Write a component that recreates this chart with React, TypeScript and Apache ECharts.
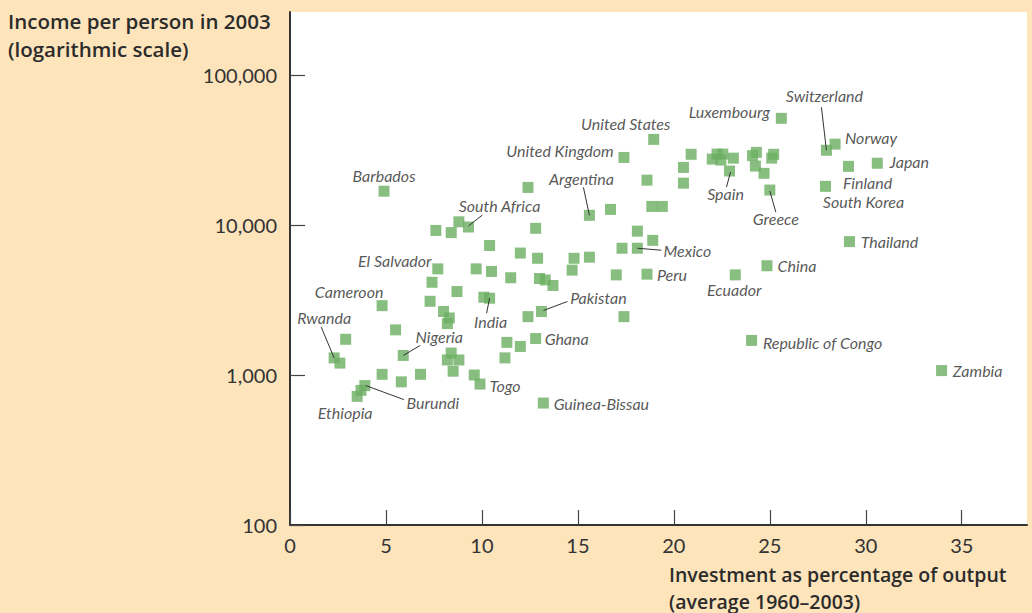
import React, { useEffect, useRef } from 'react';
import * as echarts from 'echarts';

// Country names ('' = unlabeled point)
const countries: string[] = [
  'Barbados', '', '', '', 'South Africa', '', 'El Salvador', '', '', '',
  '', '', '', 'India', 'Cameroon', '', '', '', '', '',
  'Nigeria', 'Rwanda', '', '', '', '', '', '', 'Togo', '',
  '', '', 'Burundi', '', 'Ethiopia', '', '', '', '', '',
  '', '', '', '', '', '', '', 'Peru', '', 'Pakistan',
  '', '', '', 'Ghana', '', 'Guinea-Bissau', 'Argentina', '', '', '',
  '', 'United Kingdom', 'United States', '', '', '', 'Mexico', '', '', '',
  '', '', '', '', '', 'Spain', '', '', '', '',
  '', '', 'Greece', 'Luxembourg', 'Switzerland', 'Norway', 'Finland', 'Japan', 'South Korea', 'Thailand',
  'China', 'Ecuador', 'Republic of Congo', 'Zambia',
];

// Investment as percentage of output (average 1960–2003)
const investment: number[] = [
  4.9, 7.6, 8.4, 8.8, 9.3, 10.4, 7.7, 9.7, 10.5, 7.4,
  8.7, 7.3, 10.1, 10.4, 4.8, 8.0, 8.3, 8.2, 5.5, 2.9,
  5.9, 2.3, 2.6, 8.4, 8.2, 8.8, 8.5, 9.6, 9.9, 4.8,
  5.8, 6.8, 3.9, 3.7, 3.5, 12.4, 12.8, 12.0, 12.9, 11.5,
  13.0, 13.3, 13.7, 14.8, 15.6, 14.7, 17.0, 18.6, 12.4, 13.1,
  17.4, 11.3, 12.0, 12.8, 11.2, 13.2, 15.6, 16.7, 18.6, 18.85,
  19.4, 17.4, 18.95, 18.1, 18.9, 17.3, 18.1, 20.9, 20.5, 20.5,
  22.0, 22.25, 22.55, 22.45, 23.1, 22.9, 24.1, 24.3, 24.25, 24.7,
  25.2, 25.1, 25.0, 25.6, 27.95, 28.4, 29.1, 30.6, 27.9, 29.15,
  24.85, 23.2, 24.05, 33.95,
];

// Income per person in 2003
const income: number[] = [
  16800, 9200, 8900, 10500, 9700, 7300, 5100, 5100, 4900, 4150,
  3600, 3100, 3300, 3250, 2900, 2650, 2400, 2200, 2000, 1730,
  1350, 1300, 1200, 1400, 1260, 1260, 1060, 1000, 870, 1010,
  900, 1010, 850, 790, 720, 17800, 9500, 6500, 6000, 4450,
  4400, 4300, 3950, 6000, 6100, 5000, 4650, 4700, 2450, 2650,
  2450, 1650, 1550, 1750, 1300, 650, 11600, 12700, 19900, 13300,
  13300, 28200, 37200, 9100, 7900, 7000, 7000, 29600, 24200, 19000,
  27500, 29700, 29700, 27100, 27900, 22900, 29000, 30500, 24700, 22100,
  29600, 27900, 17100, 51400, 31500, 34600, 24600, 25800, 18100, 7750,
  5350, 4650, 1700, 1070,
];

const xTicks: number[] = [0, 5, 10, 15, 20, 25, 30, 35];
const yTicks: number[] = [100, 1000, 10000, 100000];

const yTitleLines: string[] = ['Income per person in 2003', '(logarithmic scale)'];
const xTitleLines: string[] = ['Investment as percentage of output', '(average 1960–2003)'];

// Label placement (pixel offsets from the point)
const labelOffsets: Record<string, number[]> = {
  'Barbados': [0, -16],
  'United States': [-28, -16],
  'United Kingdom': [-64, -7],
  'Argentina': [-8, -37],
  'South Africa': [31, -21],
  'El Salvador': [-43, -8],
  'Cameroon': [-33, -14],
  'Rwanda': [-10, -40],
  'Nigeria': [36, -19],
  'India': [1, 23],
  'Pakistan': [57, -14],
  'Ghana': [31, 0],
  'Togo': [25, 1],
  'Burundi': [68, 17],
  'Ethiopia': [-12, 16],
  'Guinea-Bissau': [58, 0],
  'Mexico': [50, 2],
  'Peru': [25, 0],
  'China': [30, 0],
  'Ecuador': [-1, 15],
  'Thailand': [40, 0],
  'Republic of Congo': [71, 2],
  'Zambia': [36, 0],
  'Luxembourg': [-52, -7],
  'Switzerland': [-2, -55],
  'Norway': [36, -7],
  'Japan': [32, -2],
  'Finland': [19, 16],
  'South Korea': [38, 15],
  'Spain': [-4, 22],
  'Greece': [6, 28],
};

// Leader lines: pixel offsets [x1, y1, x2, y2] from the point
const leaderOffsets: Record<string, number[]> = {
  'South Africa': [0, -1, 14, -12],
  'Argentina': [-6, -28, 0, 0],
  'Spain': [1, 1, -3, 16],
  'Greece': [0, 1, 6, 22],
  'Switzerland': [-5, -43, 0, 0],
  'Mexico': [0, 0, 24, 2],
  'Pakistan': [2, -1, 26, -10],
  'India': [0, 0, -3, 15],
  'Nigeria': [0, 0, 17, -10],
  'Rwanda': [-13, -31, 0, 0],
  'Burundi': [1, 0, 39, 14],
};

const FONT = 'Lato, "Open Sans", sans-serif';
const TITLE_FONT = '"Open Sans", Lato, sans-serif';
const INK = '#2b2b2b';

export default function App() {
  const ref = useRef<HTMLDivElement>(null);

  useEffect(() => {
    if (!ref.current) return;
    const chart = echarts.init(ref.current, null, { renderer: 'svg' });

    const data = investment.map((x, i) => {
      const name = countries[i];
      const item: any = { name, value: [x, income[i]] };
      if (name) {
        item.label = {
          show: true,
          position: 'inside',
          offset: labelOffsets[name] || [0, 0],
          formatter: '{b}',
        };
      }
      return item;
    });

    const leaderNames = Object.keys(leaderOffsets);
    const leaderData = leaderNames.map((name) => {
      const i = countries.indexOf(name);
      return { name, value: [investment[i], income[i]] };
    });

    const titleStyle = {
      fontFamily: TITLE_FONT,
      fontWeight: 600,
      fill: INK,
      verticalAlign: 'middle',
    };

    chart.setOption({
      animation: false,
      backgroundColor: 'transparent',
      grid: {
        left: 290,
        right: 5,
        top: 12,
        bottom: 88,
        show: true,
        backgroundColor: '#ffffff',
        borderWidth: 0,
      },
      xAxis: {
        type: 'value',
        min: 0,
        max: 38.4,
        interval: 5,
        splitLine: { show: false },
        axisLine: { show: true, lineStyle: { color: '#333', width: 2 } },
        axisTick: {
          show: true,
          inside: true,
          length: 15,
          customValues: xTicks,
          lineStyle: { color: '#444', width: 1.2 },
        },
        axisLabel: {
          customValues: xTicks,
          margin: 10,
          fontFamily: FONT,
          fontSize: 20,
          color: '#333',
        },
      },
      yAxis: {
        type: 'log',
        logBase: 10,
        min: 100,
        max: 263000,
        splitLine: { show: false },
        axisLine: { show: true, lineStyle: { color: '#333', width: 2 } },
        axisTick: {
          show: true,
          inside: true,
          length: 15,
          customValues: yTicks,
          lineStyle: { color: '#444', width: 1.2 },
        },
        axisLabel: {
          customValues: yTicks,
          margin: 13,
          fontFamily: FONT,
          fontSize: 20,
          color: '#333',
          formatter: (v: number) => Number(v).toLocaleString('en-US'),
        },
      },
      graphic: [
        {
          type: 'text',
          x: 8,
          y: 21,
          style: { ...titleStyle, text: yTitleLines[0], fontSize: 20.5 },
        },
        {
          type: 'text',
          x: 8,
          y: 49,
          style: { ...titleStyle, text: yTitleLines[1], fontSize: 20.5 },
        },
        {
          type: 'text',
          x: 669,
          y: 574,
          style: { ...titleStyle, text: xTitleLines[0], fontSize: 19.5 },
        },
        {
          type: 'text',
          x: 669,
          y: 601,
          style: { ...titleStyle, text: xTitleLines[1], fontSize: 19.5 },
        },
      ],
      series: [
        {
          type: 'scatter',
          symbol: 'rect',
          symbolSize: 11,
          silent: true,
          itemStyle: { color: '#6cae62' },
          label: {
            show: false,
            fontFamily: FONT,
            fontStyle: 'italic',
            fontSize: 16,
            color: INK,
          },
          emphasis: { disabled: true },
          data,
          z: 2,
        },
        {
          type: 'custom',
          silent: true,
          clip: false,
          z: 3,
          data: leaderData,
          renderItem: (params: any, api: any) => {
            const p = api.coord([api.value(0), api.value(1)]);
            const seg = leaderOffsets[leaderNames[params.dataIndex]];
            return {
              type: 'line',
              shape: {
                x1: p[0] + seg[0],
                y1: p[1] + seg[1],
                x2: p[0] + seg[2],
                y2: p[1] + seg[3],
              },
              style: { stroke: '#333', lineWidth: 1 },
            };
          },
        },
      ],
    });

    return () => chart.dispose();
  }, []);

  return (
    <div
      style={{
        position: 'fixed',
        left: 0,
        top: 0,
        width: 1032,
        height: 613,
        background: '#fde4bb',
      }}
    >
      <div ref={ref} style={{ width: 1032, height: 613 }} />
    </div>
  );
}
